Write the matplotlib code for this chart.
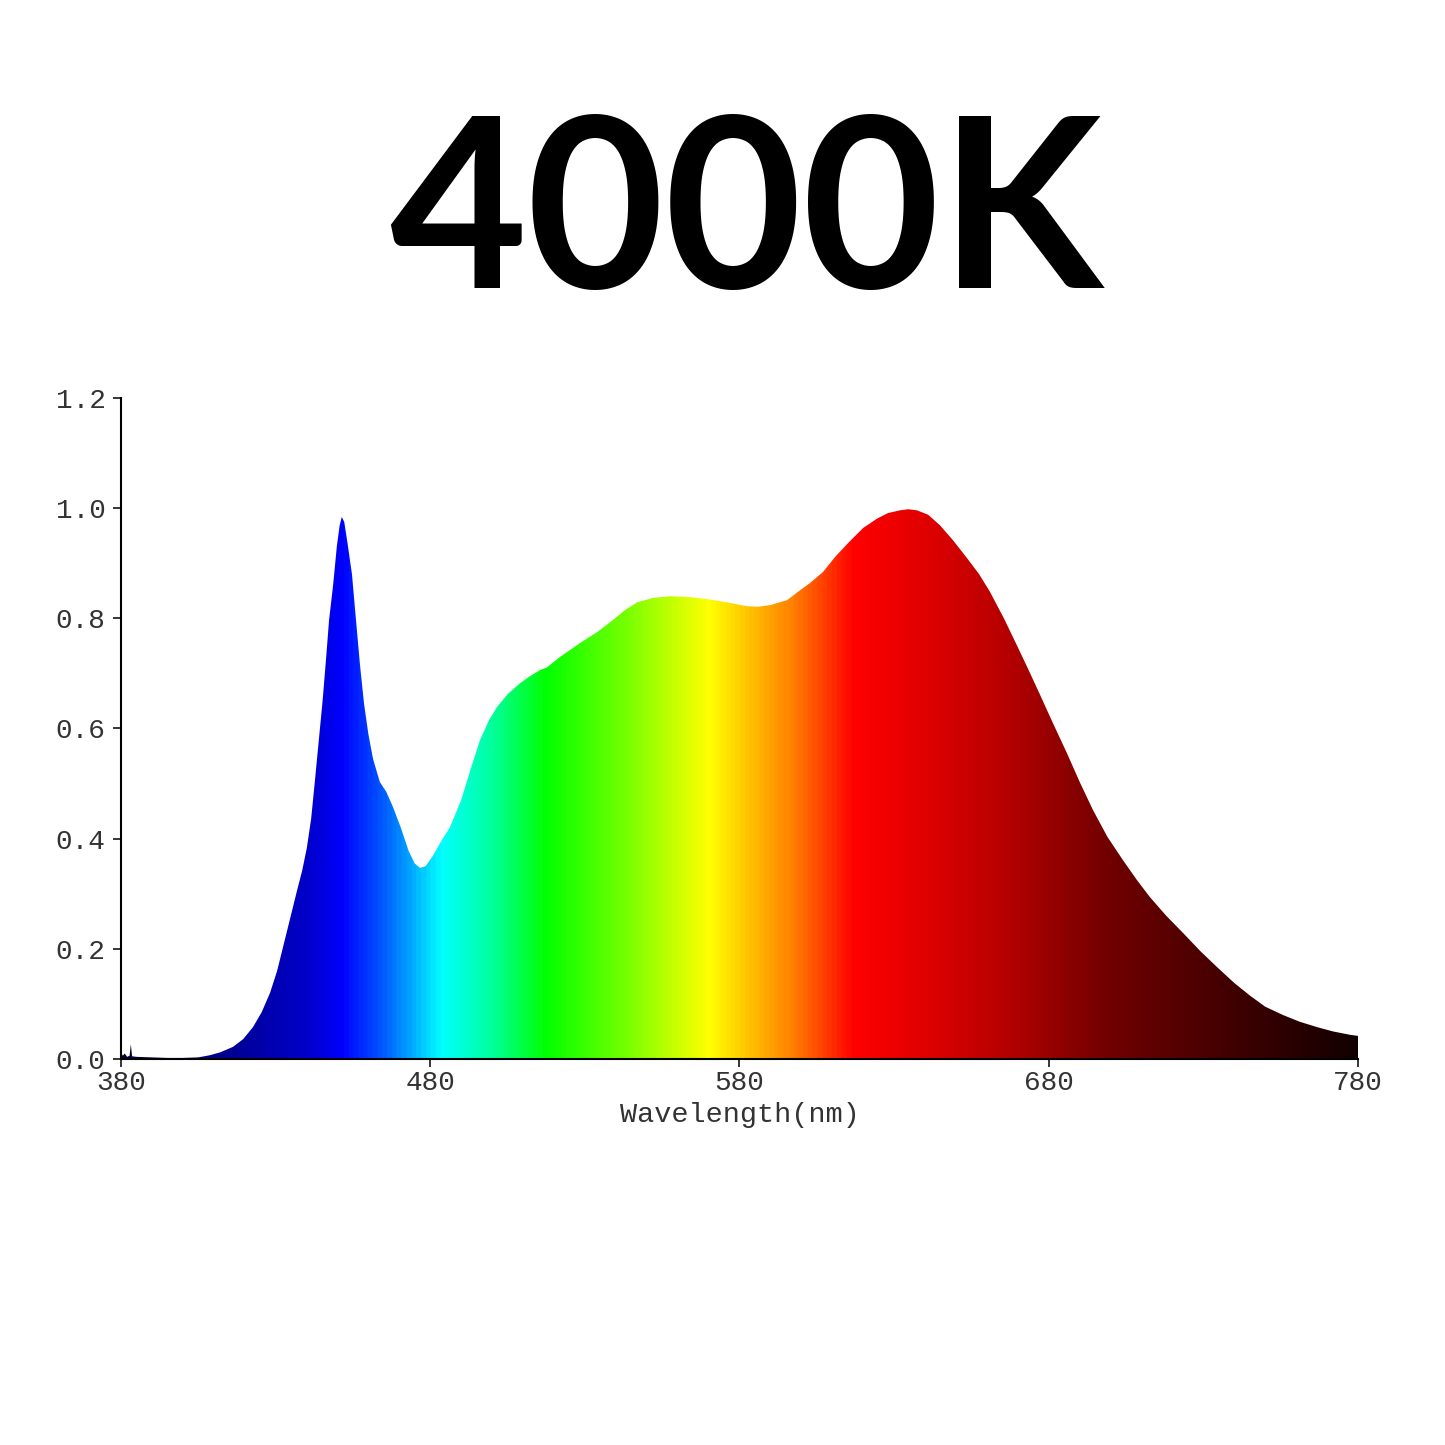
import matplotlib.pyplot as plt
import numpy as np
from matplotlib.colors import LinearSegmentedColormap
from matplotlib.patches import Polygon

# spectrum (wavelength nm, relative intensity)
wavelength = [380, 380.6, 381.2, 382, 382.8, 383.2, 383.6, 385, 390, 395, 400, 405,
              408.8, 412, 416.2, 419.5, 422.7, 425.5, 428.2, 430.5, 432.4, 434.7,
              436.9, 438.6, 440.1, 441.5, 442.7, 444, 445.2, 446.3, 447.3, 448.6,
              449.8, 450.7, 451.4, 452.2, 453.3, 454.7, 456.0, 457.3, 458.6, 460.0,
              461.5, 463.7, 465.8, 468.0, 470.5, 473.0, 475.0, 476.7, 478.5, 481.0,
              483.5, 486.4, 490.0, 493.0, 496.1, 499.0, 501.6, 505.0, 509.0, 512.0,
              515.5, 517.8, 522.0, 528.4, 534.0, 539.1, 543.0, 546.9, 552.0, 557.5,
              563.0, 569.5, 576.0, 582.4, 586.0, 589.9, 595.4, 599.6, 602.8, 607.0,
              611.0, 615.7, 620.0, 624.5, 628.0, 631.9, 634.6, 637.4, 641.0, 644.8,
              649.0, 653.6, 657.5, 661.0, 665.5, 669.7, 673.5, 677.2, 681.5, 685.9,
              690.0, 694.3, 699.0, 704.0, 708.5, 712.7, 718.0, 723.4, 729.0, 734.4,
              740.0, 745.1, 750.0, 755.7, 761.0, 766.7, 772.0, 777.4, 780]
intensity = [0.012, 0.006, 0.010, 0.004, 0.006, 0.027, 0.005, 0.004, 0.003, 0.002, 0.002, 0.003,
             0.007, 0.012, 0.022, 0.036, 0.058, 0.085, 0.120, 0.160, 0.203, 0.255,
             0.305, 0.342, 0.383, 0.436, 0.504, 0.580, 0.650, 0.725, 0.797, 0.860,
             0.930, 0.968, 0.984, 0.975, 0.935, 0.880, 0.797, 0.715, 0.645, 0.590,
             0.545, 0.503, 0.485, 0.457, 0.420, 0.378, 0.355, 0.347, 0.350, 0.370,
             0.395, 0.421, 0.470, 0.525, 0.579, 0.615, 0.639, 0.662, 0.682, 0.694,
             0.706, 0.711, 0.730, 0.755, 0.775, 0.797, 0.815, 0.829, 0.837, 0.840,
             0.839, 0.835, 0.829, 0.822, 0.821, 0.824, 0.833, 0.851, 0.864, 0.884,
             0.912, 0.940, 0.964, 0.981, 0.991, 0.996, 0.998, 0.996, 0.988, 0.969,
             0.942, 0.909, 0.880, 0.848, 0.800, 0.751, 0.706, 0.661, 0.608, 0.555,
             0.503, 0.452, 0.403, 0.361, 0.325, 0.294, 0.260, 0.229, 0.196, 0.167,
             0.138, 0.115, 0.095, 0.080, 0.068, 0.058, 0.050, 0.044, 0.042]

x_ticks = [380, 480, 580, 680, 780]
y_ticks = [0.0, 0.2, 0.4, 0.6, 0.8, 1.0, 1.2]

# colour stops for the spectrum fill
stop_nm = [380, 410, 440, 451, 465, 483, 500, 517, 545, 570, 580, 597, 617, 640, 665, 700, 745, 780]
stop_col = ['#000030', '#000088', '#0000cc', '#0000ff', '#0060ff', '#00ffff', '#00ff99', '#00ff00',
            '#80ff00', '#ffff00', '#ffd000', '#ff8000', '#ff0000', '#e00000', '#b80000',
            '#700000', '#3a0000', '#120000']

fig = plt.figure(figsize=(14.45, 14.45), dpi=100)
ax = fig.add_axes([0.0837, 0.2671, 0.8561, 0.4575])

pos = [(w - stop_nm[0]) / (stop_nm[-1] - stop_nm[0]) for w in stop_nm]
cmap = LinearSegmentedColormap.from_list('spec', list(zip(pos, stop_col)))
grad = np.linspace(0, 1, 1200).reshape(1, -1)
im = ax.imshow(grad, cmap=cmap, aspect='auto', extent=[380, 780, 0, 1.2],
               origin='lower', interpolation='bilinear', zorder=1)

# clip the colour band to the area under the spectrum
verts = np.column_stack([np.r_[wavelength[0], wavelength, wavelength[-1]],
                         np.r_[0, intensity, 0]])
outline = Polygon(verts, closed=True, facecolor='none', edgecolor='none',
                  transform=ax.transData)
ax.add_patch(outline)
im.set_clip_path(outline)

ax.set_xlim(380, 780)
ax.set_ylim(0, 1.2)
ax.set_xticks(x_ticks)
ax.set_yticks(y_ticks)
ax.set_yticklabels([f'{v:.1f}' for v in y_ticks])

mono = 'Liberation Mono'
txt_col = '#333333'
for lab in ax.get_xticklabels() + ax.get_yticklabels():
    lab.set_fontfamily(mono)
    lab.set_fontsize(20)
    lab.set_color(txt_col)
ax.tick_params(axis='both', direction='out', length=6, width=1.1, color='black')
ax.tick_params(axis='y', pad=5)
ax.tick_params(axis='x', pad=2)
ax.set_xlabel('Wavelength(nm)', fontfamily=mono, fontsize=20.5, color=txt_col, labelpad=4)

for s in ['top', 'right']:
    ax.spines[s].set_visible(False)
for s in ['left', 'bottom']:
    ax.spines[s].set_linewidth(1.5)
    ax.spines[s].set_color('black')
    ax.spines[s].set_zorder(3)

fig.text(0.516, 0.8005, '4000K', fontfamily='Lato', fontweight='bold', fontsize=171,
         ha='center', va='baseline', color='black')

fig.savefig('out.png', dpi=100, facecolor='white')
